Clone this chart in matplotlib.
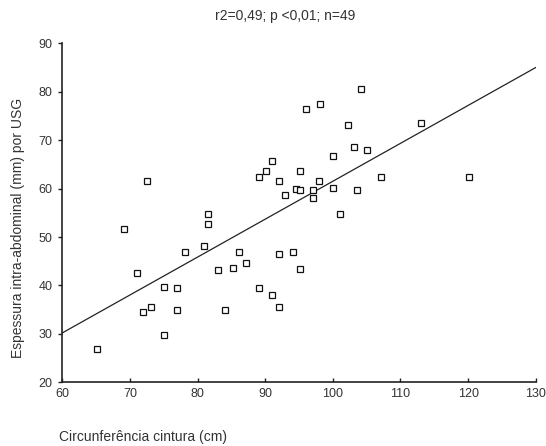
import matplotlib

matplotlib.use("Agg")
import matplotlib.pyplot as plt

# waist circumference (cm) vs intra-abdominal thickness (mm)
cintura = [
    65.1, 69.1, 71.0, 72.0, 73.1, 75.1, 75.1, 77.0, 77.0, 78.1,
    81.0, 81.6, 81.6, 83.0, 84.0, 85.2, 86.1, 87.2, 89.1, 91.0,
    92.1, 92.1, 94.1, 95.2, 72.5, 96.0, 89.1, 90.1, 91.0, 92.1,
    93.0, 94.6, 95.2, 95.2, 98.1, 104.2, 102.2, 113.0, 103.1, 105.1,
    100.0, 98.0, 97.1, 97.1, 100.0, 103.5, 107.1, 120.1, 101.1,
]
espessura = [
    26.9, 51.7, 42.6, 34.5, 35.5, 39.6, 29.7, 39.4, 35.0, 46.9,
    48.1, 54.7, 52.7, 43.1, 35.0, 43.6, 46.9, 44.6, 39.4, 38.0,
    46.4, 35.5, 46.9, 43.4, 61.6, 76.4, 62.4, 63.7, 65.7, 61.6,
    58.6, 59.9, 59.7, 63.7, 77.4, 80.6, 73.1, 73.5, 68.5, 68.0,
    66.7, 61.6, 59.8, 58.1, 60.1, 59.8, 62.4, 62.4, 54.8,
]
# regression line end points
linha_x = [60, 130]
linha_y = [30.2, 85.0]

x_ticks = list(range(60, 131, 10))
y_ticks = list(range(20, 91, 10))

txt = "#333333"
plt.rcParams["font.family"] = ["Liberation Sans", "DejaVu Sans"]

fig = plt.figure(figsize=(5.46, 4.46), dpi=100)
ax = fig.add_axes([0.1141, 0.1428, 0.8671, 0.7601])

ax.plot(linha_x, linha_y, color="#222222", lw=0.9)
ax.plot(cintura, espessura, ls="none", marker="s", ms=4.0,
        mfc="white", mec="#111111", mew=0.9)

ax.set_xlim(60, 130)
ax.set_ylim(20, 90)
ax.set_xticks(x_ticks)
ax.set_yticks(y_ticks)
for side in ("top", "right"):
    ax.spines[side].set_visible(False)
for side in ("left", "bottom"):
    ax.spines[side].set_linewidth(1.2)
    ax.spines[side].set_color("#222222")
ax.tick_params(axis="y", direction="out", length=3, width=1, colors="#222222",
               labelcolor=txt, labelsize=9, pad=4)
ax.tick_params(axis="x", direction="in", length=3, width=1, colors="#222222",
               labelcolor=txt, labelsize=9, pad=4)

fig.text(0.523, 0.965, "r2=0,49; p <0,01; n=49", ha="center", va="center",
         fontsize=10, color=txt)
fig.text(0.033, 0.49, "Espessura intra-abdominal (mm) por USG", rotation=90,
         ha="center", va="center", fontsize=10, color=txt)
fig.text(0.108, 0.005, "Circunferência cintura (cm)", ha="left", va="bottom",
         fontsize=10, color=txt)

fig.savefig("out.png", dpi=100, facecolor="white")
